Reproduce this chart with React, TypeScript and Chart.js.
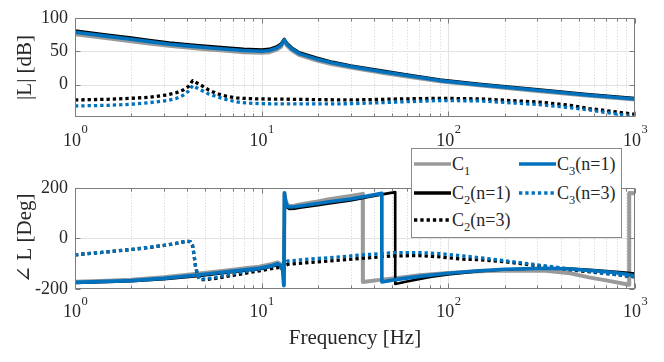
import React, { useEffect, useRef } from 'react';
import Chart from 'chart.js/auto';

// ---------- DATA ----------
// magnitude, solid curves (n=1) and C1
const magFreq = [1, 1.5, 2, 2.5, 3.2, 4, 5, 6.5, 8, 10, 11, 12, 12.7, 13.2, 13.7, 14.5, 16, 19.6, 24, 30, 45, 60, 90, 150, 300, 550, 1000];
const magC1 = [75.5, 69.5, 65, 61.5, 58, 55.5, 53, 50.5, 48.5, 47.5, 48.5, 52, 56.5, 65.5, 58, 51.5, 44, 36.5, 30.5, 25.5, 17.5, 12, 5, -1.5, -9.5, -16.5, -22.5];
const magC2n1 = [81, 74.7, 70.3, 66.8, 63, 60.5, 58, 55.5, 53.5, 52.5, 53.5, 57, 61.5, 68.5, 62, 55.5, 48, 40.5, 34, 28.5, 20.5, 15, 7.5, 1, -7, -14, -20];
const magC3n1 = [78.5, 72.2, 67.8, 64.3, 60.5, 58, 55.5, 53, 51, 50, 51, 54.5, 59, 67, 60, 53.5, 46, 38.5, 32.3, 27, 19, 13.5, 6, -0.5, -8.5, -15.5, -21.5];

// magnitude, dotted curves (n=3)
const dotMagFreq = [1, 1.5, 2, 2.5, 3.1, 3.5, 3.8, 4.05, 4.27, 4.5, 4.84, 5.2, 5.74, 6.5, 7.35, 8.5, 10, 15, 20, 30, 55, 90, 150, 307, 450, 567, 750, 1000];
const magC2n3 = [-23, -22, -20.5, -19, -15.5, -12, -8, -3, 6, 2.5, -2.5, -8, -13.5, -17.5, -20, -21, -21.5, -22, -22.5, -23, -21.5, -20.5, -21.5, -26.2, -31, -35.8, -40, -44.5];
const magC3n3 = [-32, -31, -29.5, -27, -24, -20.5, -16, -10, -1.5, -5, -9.6, -14, -18, -22.5, -26, -27.8, -28.6, -29, -29, -28.6, -26, -23.8, -24.5, -30, -34.5, -38, -43, -48];

// phase, C1
const phFreqC1 = [1, 1.5, 2, 3, 4.66, 6.5, 8.6, 9.7, 11.4, 12.2, 12.7, 13.0, 13.15, 13.25, 13.4, 13.7, 14.1, 15, 16, 20, 23, 26, 30, 34.8, 34.85, 44, 52, 70, 100, 146, 200, 333, 450, 567, 700, 888, 929, 931, 1000];
const phC1 = [-171, -167, -163, -154, -139, -127, -116, -112, -101, -95, -103, -125, -183, 180, 155, 133, 127, 129, 134, 146, 155, 161, 168, 176, -172, -163, -157, -146, -137, -130, -127, -128, -138, -154, -166, -180, -183, 179, 178];
// phase, C2(n=1)
const phFreqC2n1 = [1, 1.5, 2, 3, 4.66, 6.5, 8.6, 9.7, 11.4, 12.2, 12.7, 13.0, 13.15, 13.25, 13.4, 13.7, 14.1, 15, 16, 20, 23, 30, 38, 45, 51.9, 51.95, 60, 80, 100, 146, 200, 333, 450, 600, 888, 1000];
const phC2n1 = [-176, -172, -169, -161, -148, -136, -126, -122, -111, -105, -112, -134, -188, 178, 146, 122, 116, 117, 121, 131, 138, 150, 165, 175, 183, -180, -170, -152, -143, -130, -123, -118, -119, -125, -135, -139];
// phase, C3(n=1)
const phFreqC3n1 = [1, 1.5, 2, 3, 4.66, 6.5, 8.6, 9.7, 11.4, 12.2, 12.7, 13.0, 13.15, 13.25, 13.4, 13.7, 14.1, 15, 16, 20, 23, 26, 30, 38, 44, 44.05, 52, 70, 100, 146, 200, 333, 450, 600, 750, 888, 1000];
const phC3n1 = [-174, -170, -167, -158, -144, -132, -122, -118, -107, -100, -108, -130, -186, 179, 150, 127, 124, 125, 128, 138, 145, 150, 156, 169, 178, -172, -163, -150, -138, -128, -122, -118, -121, -128, -134, -141, -148];
// phase, dotted curves (n=3)
const dotPhFreq = [1, 1.5, 2.05, 2.6, 3.1, 3.64, 3.95, 4.15, 4.27, 4.35, 4.43, 4.55, 4.66, 5.0, 5.7, 7, 8.6, 9.7, 11, 12.4, 13.0, 13.2, 13.4, 13.9, 18, 26, 35, 52, 70, 90, 119, 146, 200, 333, 500, 755, 888, 1000];
const phC2n3 = [-65, -53, -43, -34, -26, -17, -11, -13, -30, -70, -115, -146, -163, -163, -158, -146, -135, -128, -121, -115, -113, -117, -106, -102, -95, -86, -78, -69, -68, -73, -82, -84, -92, -112, -128, -141, -148, -152];
const phC3n3 = [-65, -53, -43, -34, -26, -17, -11, -13, -30, -70, -115, -145, -161, -160, -154, -140, -128, -122, -112, -102, -100, -104, -93, -89, -82, -73, -65, -56, -56, -60, -69, -76, -88, -109, -125, -141, -148, -152];

// axis ticks
const xLabelDecades = [1, 10, 100, 1000];
const xLabelExponents = ['0', '1', '2', '3'];
const magTicks = [0, 50, 100];
const phaseTicks = [-200, 0, 200];

// ---------- STYLE ----------
const FONT = '"Liberation Serif", "Times New Roman", "DejaVu Serif", serif';
const TEXT = '#262626';
const GRAY = '#9a9a9a';
const BLACK = '#000000';
const BLUE = '#0072BD';
const DOT = [3.3, 3];

type Series = { key: string; base: string; sub: string; suffix: string; color: string; width: number; dash: number[]; order: number };
const series: Series[] = [
  { key: 'C1', base: 'C', sub: '1', suffix: '', color: GRAY, width: 4, dash: [], order: 4 },
  { key: 'C2n1', base: 'C', sub: '2', suffix: '(n=1)', color: BLACK, width: 2.6, dash: [], order: 3 },
  { key: 'C2n3', base: 'C', sub: '2', suffix: '(n=3)', color: BLACK, width: 3.3, dash: DOT, order: 2 },
  { key: 'C3n1', base: 'C', sub: '3', suffix: '(n=1)', color: BLUE, width: 3.6, dash: [], order: 1 },
  { key: 'C3n3', base: 'C', sub: '3', suffix: '(n=3)', color: BLUE, width: 3.3, dash: DOT, order: 0 },
];

const pts = (xs: number[], ys: number[]) => xs.map((x, i) => ({ x, y: ys[i] }));

const magData: Record<string, { x: number; y: number }[]> = {
  C1: pts(magFreq, magC1),
  C2n1: pts(magFreq, magC2n1),
  C2n3: pts(dotMagFreq, magC2n3),
  C3n1: pts(magFreq, magC3n1),
  C3n3: pts(dotMagFreq, magC3n3),
};
const phData: Record<string, { x: number; y: number }[]> = {
  C1: pts(phFreqC1, phC1),
  C2n1: pts(phFreqC2n1, phC2n1),
  C2n3: pts(dotPhFreq, phC2n3),
  C3n1: pts(phFreqC3n1, phC3n1),
  C3n3: pts(dotPhFreq, phC3n3),
};

const minorX: number[] = [];
for (const d of [1, 10, 100]) for (let m = 2; m <= 9; m++) minorX.push(m * d);

const framePlugin = {
  id: 'frame',
  beforeDatasetsDraw(chart: any, _a: any, opts: any) {
    const { ctx, chartArea: a, scales } = chart;
    const xs = scales.x, ys = scales.y;
    ctx.save();
    ctx.beginPath();
    ctx.rect(a.left, a.top, a.right - a.left, a.bottom - a.top);
    ctx.clip();
    ctx.lineWidth = 1;
    ctx.strokeStyle = '#d2d2d2';
    ctx.setLineDash([1, 2]);
    for (const v of minorX) {
      const px = Math.round(xs.getPixelForValue(v)) + 0.5;
      ctx.beginPath(); ctx.moveTo(px, a.top); ctx.lineTo(px, a.bottom); ctx.stroke();
    }
    ctx.setLineDash([]);
    ctx.strokeStyle = '#e3e3e3';
    for (const v of xLabelDecades) {
      const px = Math.round(xs.getPixelForValue(v)) + 0.5;
      ctx.beginPath(); ctx.moveTo(px, a.top); ctx.lineTo(px, a.bottom); ctx.stroke();
    }
    for (const v of opts.yTicks) {
      const py = Math.round(ys.getPixelForValue(v)) + 0.5;
      ctx.beginPath(); ctx.moveTo(a.left, py); ctx.lineTo(a.right, py); ctx.stroke();
    }
    ctx.restore();
  },
  afterDraw(chart: any, _a: any, opts: any) {
    const { ctx, chartArea: a, scales } = chart;
    const xs = scales.x, ys = scales.y;
    ctx.save();
    ctx.strokeStyle = '#7c7c7c';
    ctx.lineWidth = 1;
    const L = Math.round(a.left) + 0.5, R = Math.round(a.right) - 0.5;
    const T = Math.round(a.top) + 0.5, B = Math.round(a.bottom) - 0.5;
    ctx.strokeRect(L, T, R - L, B - T);
    ctx.beginPath();
    for (const v of minorX) {
      const px = Math.round(xs.getPixelForValue(v)) + 0.5;
      ctx.moveTo(px, B); ctx.lineTo(px, B - 3);
      ctx.moveTo(px, T); ctx.lineTo(px, T + 3);
    }
    for (const v of xLabelDecades) {
      const px = Math.round(xs.getPixelForValue(v)) + 0.5;
      ctx.moveTo(px, B); ctx.lineTo(px, B - 5);
      ctx.moveTo(px, T); ctx.lineTo(px, T + 5);
    }
    for (const v of opts.yTicks) {
      const py = Math.round(ys.getPixelForValue(v)) + 0.5;
      ctx.moveTo(L, py); ctx.lineTo(L + 5, py);
      ctx.moveTo(R, py); ctx.lineTo(R - 5, py);
    }
    ctx.stroke();
    // x tick labels as 10^n
    ctx.fillStyle = TEXT;
    ctx.textBaseline = 'middle';
    ctx.textAlign = 'left';
    xLabelDecades.forEach((v, i) => {
      const px = xs.getPixelForValue(v);
      ctx.font = `18px ${FONT}`;
      const w1 = ctx.measureText('10').width;
      ctx.font = `12.5px ${FONT}`;
      const w2 = ctx.measureText(xLabelExponents[i]).width;
      const start = px - (w1 + w2) / 2;
      ctx.font = `18px ${FONT}`;
      ctx.fillText('10', start, opts.labelY);
      ctx.font = `12.5px ${FONT}`;
      ctx.fillText(xLabelExponents[i], start + w1 + 0.5, opts.labelY - 11);
    });
    ctx.restore();
  },
};

function makeConfig(dataMap: Record<string, { x: number; y: number }[]>, yMin: number, yMax: number, yTicks: number[], yTitle: string, xTitle: string | null, xHeight: number, padTop: number, labelY: number) {
  return {
    type: 'line',
    data: {
      datasets: series.map((s) => ({
        label: s.key,
        data: dataMap[s.key],
        borderColor: s.color,
        backgroundColor: s.color,
        borderWidth: s.width,
        borderDash: s.dash,
        borderCapStyle: 'butt',
        borderJoinStyle: 'round',
        pointRadius: 0,
        tension: 0,
        fill: false,
        order: s.order,
        clip: 0,
      })),
    },
    options: {
      animation: false,
      responsive: false,
      devicePixelRatio: 1,
      layout: { padding: { top: padTop, right: 29, left: 0, bottom: 0 } },
      plugins: {
        legend: { display: false },
        tooltip: { enabled: false },
        frame: { yTicks, labelY },
      },
      scales: {
        x: {
          type: 'logarithmic',
          min: 1,
          max: 1000,
          ticks: { display: false },
          grid: { display: false, drawTicks: false },
          border: { display: false },
          title: xTitle
            ? { display: true, text: xTitle, color: TEXT, font: { family: FONT, size: 21 }, padding: { top: 0, bottom: 11 } }
            : { display: false },
          afterFit: (sc: any) => { sc.height = xHeight; },
        },
        y: {
          type: 'linear',
          min: yMin,
          max: yMax,
          afterBuildTicks: (sc: any) => { sc.ticks = yTicks.map((v) => ({ value: v })); },
          ticks: { color: TEXT, font: { family: FONT, size: 18 }, padding: 7, callback: (v: any) => String(v) },
          grid: { display: false, drawTicks: false },
          border: { display: false },
          title: { display: true, text: yTitle, color: TEXT, font: { family: FONT, size: 21 }, padding: { top: 13, bottom: 0 } },
          afterFit: (sc: any) => { sc.width = 75; },
        },
      },
    },
    plugins: [framePlugin],
  } as any;
}

function Legend() {
  const rows = 3;
  const colX = [2, 107];
  const rowY = [15, 43.5, 71];
  return (
    <div style={{ position: 'absolute', left: 411, top: 148, width: 209, height: 88, border: '1px solid #8a8a8a', background: '#fff', zIndex: 2, boxSizing: 'content-box' }}>
      {series.map((s, i) => {
        const col = Math.floor(i / rows), row = i % rows;
        return (
          <div key={s.key} style={{ position: 'absolute', left: colX[col], top: rowY[row] - 14, height: 28, display: 'flex', alignItems: 'center', whiteSpace: 'nowrap' }}>
            <svg width={37} height={8} style={{ display: 'block' }}>
              <line x1={0} y1={4} x2={37} y2={4} stroke={s.color} strokeWidth={3.3} strokeDasharray={s.dash.length ? s.dash.join(' ') : undefined} />
            </svg>
            <span style={{ fontFamily: FONT, fontSize: 18, color: TEXT, marginLeft: 1, lineHeight: '28px' }}>
              {s.base}
              <sub style={{ fontSize: 12.5, verticalAlign: '-5px', lineHeight: 0 }}>{s.sub}</sub>
              {s.suffix}
            </span>
          </div>
        );
      })}
    </div>
  );
}

export default function App() {
  const topRef = useRef<HTMLCanvasElement>(null);
  const botRef = useRef<HTMLCanvasElement>(null);
  useEffect(() => {
    const c1 = new Chart(topRef.current as HTMLCanvasElement, makeConfig(magData, -48.5, 100, magTicks, '|L| [dB]', null, 48, 14, 141));
    const c2 = new Chart(botRef.current as HTMLCanvasElement, makeConfig(phData, -200, 200, phaseTicks, '\u2220 L [Deg]', 'Frequency [Hz]', 73, 15, 142.5));
    return () => { c1.destroy(); c2.destroy(); };
  }, []);
  return (
    <div style={{ position: 'fixed', left: 0, top: 0, width: 664, height: 362, background: '#fff', overflow: 'hidden' }}>
      <canvas ref={topRef} width={664} height={165} style={{ position: 'absolute', left: 0, top: 0, width: 664, height: 165 }} />
      <canvas ref={botRef} width={664} height={192} style={{ position: 'absolute', left: 0, top: 170, width: 664, height: 192 }} />
      <Legend />
    </div>
  );
}
